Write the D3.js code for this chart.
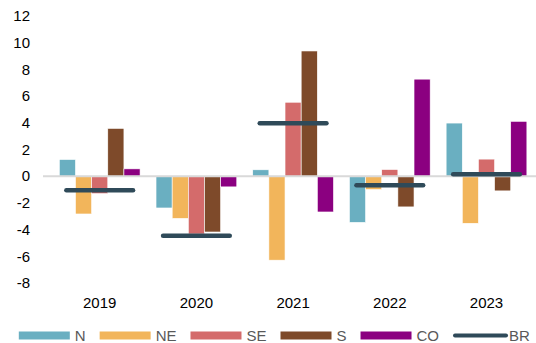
<!DOCTYPE html>
<html>
<head>
<meta charset="utf-8">
<script src="https://cdn.jsdelivr.net/npm/d3@7"></script>
<style>
    body { margin: 0; background: #fff; }
    svg { display: block; font-family: "Liberation Sans", Arial, sans-serif; }
</style>
</head>
<body>
<main></main>
<script>
// values
let years = ['2019', '2020', '2021', '2022', '2023']
let yTicks = [-8, -6, -4, -2, 0, 2, 4, 6, 8, 10, 12]
let seriesNames = ['N', 'NE', 'SE', 'S', 'CO']
let valN = [1.25, -2.38, 0.48, -3.46, 3.98]
let valNE = [-2.83, -3.16, -6.29, -1.0, -3.53]
let valSE = [-1.31, -4.33, 5.54, 0.5, 1.28]
let valS = [3.58, -4.18, 9.38, -2.3, -1.1]
let valCO = [0.55, -0.8, -2.68, 7.27, 4.11]
let valBR = [-1.05, -4.46, 3.96, -0.68, 0.15]

let colors = ['#6aafc1', '#f2b55b', '#d46b6b', '#7e4a2a', '#8b0080']
let brColor = '#2f4a59'

let seriesVals = [valN, valNE, valSE, valS, valCO]

let svg = d3.select('main').append('svg')
    .attr('width', 536)
    .attr('height', 343)

let x = d3.scaleBand()
    .domain(years)
    .range([51.35, 534.85])
    .paddingInner(0.165)
    .paddingOuter(0.0825)

let xs = d3.scaleBand()
    .domain(seriesNames)
    .range([0, x.bandwidth()])

let y = d3.scaleLinear()
    .domain([-8, 12])
    .range([283, 16])

// y tick labels
svg.append('g')
    .selectAll('text')
    .data(yTicks)
    .join('text')
    .attr('x', 30)
    .attr('y', d => y(d))
    .attr('dy', '0.35em')
    .attr('text-anchor', 'end')
    .style('font-size', '15px')
    .style('fill', '#000')
    .text(d => d)

// bars
seriesNames.forEach((s, i) => {
    svg.append('g')
        .selectAll('rect')
        .data(seriesVals[i])
        .join('rect')
        .attr('x', (d, j) => x(years[j]) + xs(s))
        .attr('y', d => y(Math.max(0, d)))
        .attr('width', xs.bandwidth())
        .attr('height', d => Math.abs(y(d) - y(0)))
        .attr('fill', colors[i])
        .attr('stroke', '#fff')
        .attr('stroke-width', 0.6)
})

// zero line
svg.append('line')
    .attr('x1', 43)
    .attr('x2', 536)
    .attr('y1', y(0))
    .attr('y2', y(0))
    .style('stroke', '#d9d9d9')
    .style('stroke-width', 2)

// BR markers
svg.append('g')
    .selectAll('line')
    .data(valBR)
    .join('line')
    .attr('x1', (d, j) => x(years[j]) + x.bandwidth() * 0.087)
    .attr('x2', (d, j) => x(years[j]) + x.bandwidth() * 0.913)
    .attr('y1', d => y(d))
    .attr('y2', d => y(d))
    .style('stroke', brColor)
    .style('stroke-width', 4.5)
    .style('stroke-linecap', 'round')

// x labels
svg.append('g')
    .selectAll('text')
    .data(years)
    .join('text')
    .attr('x', d => x(d) + x.bandwidth() / 2)
    .attr('y', 308)
    .attr('text-anchor', 'middle')
    .style('font-size', '15px')
    .style('fill', '#000')
    .text(d => d)

// legend
let legend = svg.append('g')
let lx = 18.8
let ly = 335.5
let legendItems = seriesNames.concat(['BR'])
legendItems.forEach((name, i) => {
    if (name === 'BR') {
        legend.append('line')
            .attr('x1', lx + 2)
            .attr('x2', lx + 53)
            .attr('y1', ly)
            .attr('y2', ly)
            .style('stroke', brColor)
            .style('stroke-width', 4)
            .style('stroke-linecap', 'round')
    } else {
        legend.append('rect')
            .attr('x', lx)
            .attr('y', ly - 4)
            .attr('width', 51)
            .attr('height', 8)
            .attr('fill', colors[i])
    }
    let t = legend.append('text')
        .attr('x', lx + 56)
        .attr('y', ly + 5.5)
        .style('font-size', '15px')
        .style('fill', '#595959')
        .text(name)
    lx += 56 + t.node().getComputedTextLength() + 14
})
</script>
</body>
</html>
